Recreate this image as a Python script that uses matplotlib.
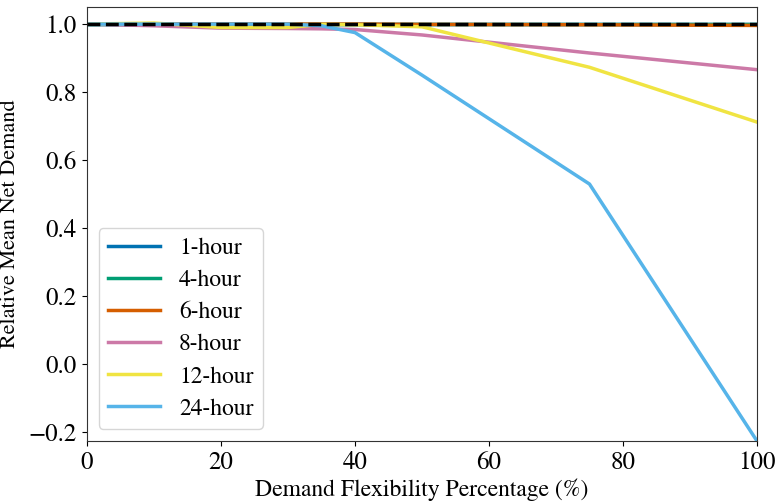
import numpy as np
import matplotlib
matplotlib.use("Agg")
import matplotlib.pyplot as plt

plt.rcParams["font.family"] = "STIXGeneral"
plt.rcParams["mathtext.fontset"] = "stix"

# demand flexibility percentage
flex = [0, 10, 20, 30, 35, 40, 50, 75, 100]

hour_1 = [1.0, 1.0, 1.0, 1.0, 1.0, 1.0, 1.0, 1.0, 1.0]
hour_4 = [1.0, 1.0, 1.0, 1.0, 1.0, 1.0, 1.0, 1.0, 1.0]
hour_6 = [1.0, 1.0, 1.0, 1.0, 1.0, 1.0, 0.999, 0.998, 0.996]
hour_8 = [1.0, 0.995, 0.988, 0.987, 0.986, 0.984, 0.968, 0.915, 0.866]
hour_12 = [1.0, 1.003, 0.99, 0.99, 0.999, 0.998, 0.992, 0.873, 0.712]
hour_24 = [1.0, 1.0, 1.0, 1.0, 0.995, 0.975, 0.85, 0.53, -0.225]

series = [hour_1, hour_4, hour_6, hour_8, hour_12, hour_24]
labels = ["1-hour", "4-hour", "6-hour", "8-hour", "12-hour", "24-hour"]
colors = ["#0072B2", "#009E73", "#D55E00", "#CC79A7", "#F0E442", "#56B4E9"]

fig = plt.figure(figsize=(7.8, 5.04), dpi=100)
ax = fig.add_axes([0.1115, 0.125, 0.859, 0.861])

for vals, lab, c in zip(series, labels, colors):
    ax.plot(flex, vals, color=c, lw=2.5, label=lab)

ax.axhline(y=1.0, color="black", lw=2.5, ls="--", zorder=5)

ax.set_xlim(0, 100)
ax.set_ylim(min(hour_24), 1.05)
ax.set_xticks([0, 20, 40, 60, 80, 100])
ax.set_yticks([-0.2, 0.0, 0.2, 0.4, 0.6, 0.8, 1.0])

ax.tick_params(labelsize=18, pad=4)
ax.set_xlabel("Demand Flexibility Percentage (%)", fontsize=17, labelpad=2)
ax.set_ylabel("Relative Mean Net Demand", fontsize=16, labelpad=6)

for s in ax.spines.values():
    s.set_color("#333333")

ax.legend(loc="lower left", fontsize=17, handlelength=2.2,
          labelspacing=0.45, borderaxespad=0.5)

fig.savefig("out.png", dpi=100)
